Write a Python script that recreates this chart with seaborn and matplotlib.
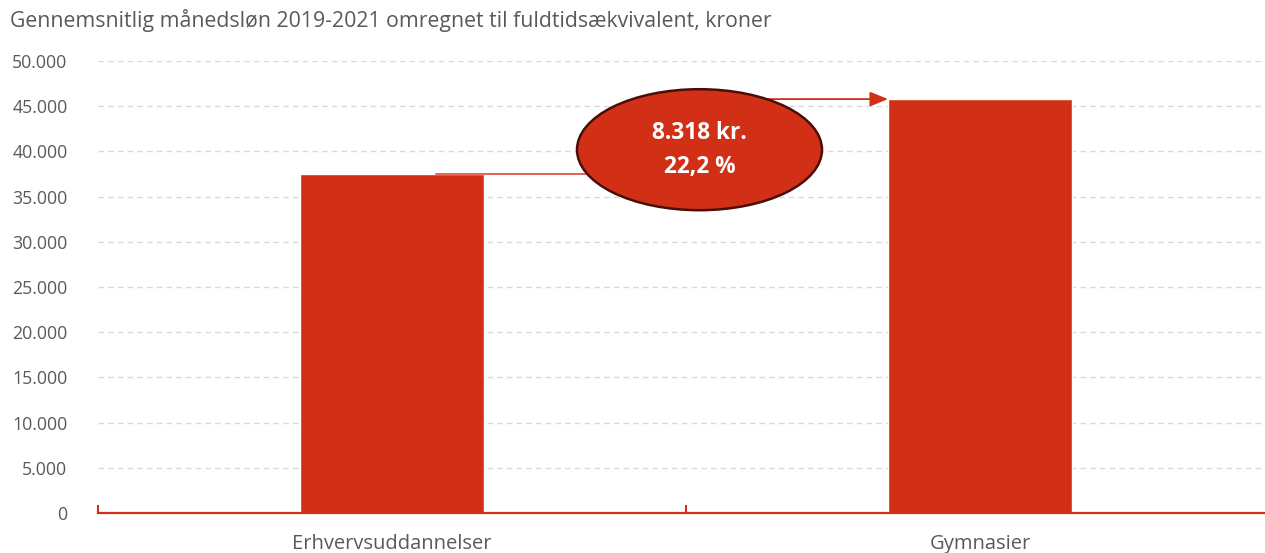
import matplotlib
matplotlib.use("Agg")
import matplotlib.pyplot as plt
from matplotlib.patches import Ellipse
from matplotlib.ticker import FuncFormatter, FixedLocator
import seaborn as sns
import pandas as pd

# data
categories = ['Erhvervsuddannelser', 'Gymnasier']
salaries = [37468, 45786]
diff_label = '8.318 kr.\n22,2 %'
title = 'Gennemsnitlig månedsløn 2019-2021 omregnet til fuldtidsækvivalent, kroner'

bar_red = '#D13017'
grey = '#595959'

sns.set_style("white")
plt.rcParams['font.family'] = ['Open Sans', 'DejaVu Sans']

df = pd.DataFrame({'cat': categories, 'val': salaries})

fig = plt.figure(figsize=(12.65, 5.53), dpi=100)
ax = fig.add_axes([98 / 1265, 1 - 513 / 553, 1 - 98 / 1265, (513 - 61) / 553])

sns.barplot(data=df, x='cat', y='val', color=bar_red, width=0.313,
            saturation=1, ax=ax, zorder=3)

ax.set_xlim(-0.5, 1.5 - 9 / 588)
ax.set_ylim(0, 50000)
ax.set_yticks(range(0, 50001, 5000))
ax.yaxis.set_major_formatter(FuncFormatter(lambda v, p: f'{int(v):,}'.replace(',', '.')))
ax.grid(axis='y', color='#D9D9D9', linestyle=(0, (4, 3)), linewidth=1, zorder=0)
ax.set_axisbelow(True)

for s in ['left', 'right', 'top']:
    ax.spines[s].set_visible(False)
ax.spines['bottom'].set_color(bar_red)
ax.spines['bottom'].set_linewidth(1.6)
ax.spines['bottom'].set_zorder(4)

ax.tick_params(axis='y', length=0, labelsize=12.8, labelcolor=grey, pad=22)
ax.tick_params(axis='x', length=0, labelsize=14.5, labelcolor=grey, pad=15)
ax.xaxis.set_minor_locator(FixedLocator([-0.5, 0.5, 1.5]))
ax.tick_params(axis='x', which='minor', bottom=True, direction='in',
               length=6, width=1.5, color=bar_red)
ax.set_xlabel('')
ax.set_ylabel('')

# connector from first bar level to second bar
x0, x1 = 0.075, 1 - 0.313 / 2
xm = 0.53
ax.plot([x0, xm, xm], [salaries[0], salaries[0], salaries[1]],
        color='#E05A45', linewidth=1.3, zorder=5)
ax.annotate('', xy=(x1, salaries[1]), xytext=(xm, salaries[1]),
            arrowprops=dict(arrowstyle='-|>,head_length=1.1,head_width=0.45',
                            color=bar_red, lw=1.3, shrinkA=0, shrinkB=0),
            zorder=5)

# ellipse with difference
ex = (699.5 - 98) / 588 - 0.5
ey = (513 - 149.7) / 452 * 50000
ell = Ellipse((ex, ey), width=245 / 588, height=121 / 452 * 50000,
              facecolor=bar_red, edgecolor='#4A0E08', linewidth=1.8, zorder=6)
ax.add_patch(ell)
ax.text(ex, ey, diff_label, ha='center', va='center', color='white',
        fontsize=16.3, fontweight='bold', linespacing=1.55, zorder=7)

fig.text(10 / 1265, 1 - 21 / 553, title, ha='left', va='center',
         fontsize=15.3, color=grey)

fig.savefig('out.png', dpi=100)
